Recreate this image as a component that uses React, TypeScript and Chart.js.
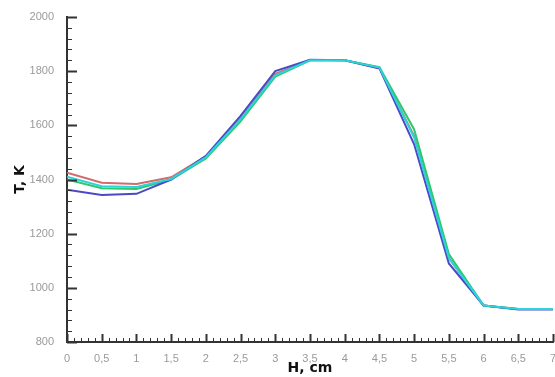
import React, { useEffect, useRef } from "react";
import { Chart, registerables } from "chart.js";

Chart.register(...registerables);

const H = [0, 0.5, 1, 1.5, 2, 2.5, 3, 3.5, 4, 4.5, 5, 5.5, 6, 6.5, 7];
const redT = [1425, 1388, 1383, 1408, 1485, 1625, 1790, 1840, 1840, 1812, 1560, 1110, 935, 922, 922];
const greenT = [1400, 1368, 1365, 1400, 1478, 1615, 1780, 1840, 1840, 1815, 1585, 1125, 935, 922, 922];
const blueT = [1362, 1343, 1347, 1400, 1487, 1635, 1800, 1842, 1840, 1810, 1530, 1090, 935, 920, 920];
const cyanT = [1410, 1375, 1372, 1402, 1482, 1622, 1785, 1840, 1840, 1813, 1555, 1110, 935, 922, 922];

const xTicks = [0, 0.5, 1, 1.5, 2, 2.5, 3, 3.5, 4, 4.5, 5, 5.5, 6, 6.5, 7];
const yTicks = [800, 1000, 1200, 1400, 1600, 1800, 2000];

const inwardTicks = {
  id: "inwardTicks",
  afterDraw(chart: any) {
    const { ctx, scales, chartArea } = chart;
    const x = scales.x;
    const y = scales.y;
    ctx.save();
    ctx.strokeStyle = "#333";
    for (let i = 0; i <= 70; i++) {
      const v = i / 10;
      const major = i % 5 === 0;
      const px = Math.round(x.getPixelForValue(v)) + 0.5;
      ctx.lineWidth = major ? 2 : 1;
      ctx.beginPath();
      ctx.moveTo(px, chartArea.bottom);
      ctx.lineTo(px, chartArea.bottom - (major ? 8 : 4));
      ctx.stroke();
    }
    for (let i = 0; i <= 30; i++) {
      const v = 800 + i * 40;
      const major = i % 5 === 0;
      const py = Math.round(y.getPixelForValue(v)) + 0.5;
      ctx.lineWidth = major ? 2 : 1;
      ctx.beginPath();
      ctx.moveTo(chartArea.left, py);
      ctx.lineTo(chartArea.left + (major ? 10 : 5), py);
      ctx.stroke();
    }
    ctx.restore();
  },
};

function mk(label: string, data: number[], color: string) {
  return {
    label,
    data: H.map((h, i) => ({ x: h, y: data[i] })),
    borderColor: color,
    borderWidth: 2,
    pointRadius: 0,
    fill: false,
    tension: 0,
  };
}

export default function App() {
  const ref = useRef<HTMLCanvasElement>(null);
  useEffect(() => {
    document.body.style.margin = "0";
    const chart = new Chart(ref.current!, {
      type: "line",
      data: {
        datasets: [
          mk("red", redT, "#d46a6a"),
          mk("green", greenT, "#2cc86a"),
          mk("blue", blueT, "#4a4ac8"),
          mk("cyan", cyanT, "#2ad4d8"),
        ].reverse(),
      },
      options: {
        animation: false,
        responsive: false,
        layout: { padding: { top: 17, right: 2, left: 0, bottom: 0 } },
        plugins: { legend: { display: false }, tooltip: { enabled: false } },
        scales: {
          x: {
            type: "linear",
            min: 0,
            max: 7,
            afterBuildTicks: (s: any) => {
              s.ticks = xTicks.map((v) => ({ value: v }));
            },
            afterFit: (s: any) => {
              s.height = 35;
              s.paddingLeft = 0;
              s.paddingRight = 0;
            },
            grid: { display: false },
            border: { display: true, color: "#333", width: 2 },
            ticks: {
              padding: 2,
              color: "#9a9a9a",
              font: { family: "Liberation Sans", size: 11 },
              maxRotation: 0,
              autoSkip: false,
              callback: (v: any) => String(v).replace(".", ","),
            },
            title: {
              display: true,
              text: "H, cm",
              color: "#111",
              font: { family: "DejaVu Sans", size: 14, weight: "bold" },
              padding: { top: 0, bottom: 0 },
            },
          },
          y: {
            type: "linear",
            min: 800,
            max: 2000,
            afterBuildTicks: (s: any) => {
              s.ticks = yTicks.map((v) => ({ value: v }));
            },
            afterFit: (s: any) => {
              s.width = 67;
              s.paddingTop = 0;
              s.paddingBottom = 0;
            },
            grid: { display: false },
            border: { display: true, color: "#333", width: 2 },
            ticks: {
              padding: 5,
              color: "#9a9a9a",
              font: { family: "Liberation Sans", size: 11 },
              autoSkip: false,
              callback: (v: any) => String(v),
            },
            title: {
              display: true,
              text: "T, K",
              color: "#111",
              font: { family: "DejaVu Sans", size: 14, weight: "bold" },
              padding: { top: 12, bottom: 4 },
            },
          },
        },
      },
      plugins: [inwardTicks],
    } as any);
    return () => chart.destroy();
  }, []);
  return (
    <div style={{ position: "absolute", left: 0, top: 0, width: 555, height: 377, background: "#fff" }}>
      <canvas ref={ref} width={555} height={377} />
    </div>
  );
}
